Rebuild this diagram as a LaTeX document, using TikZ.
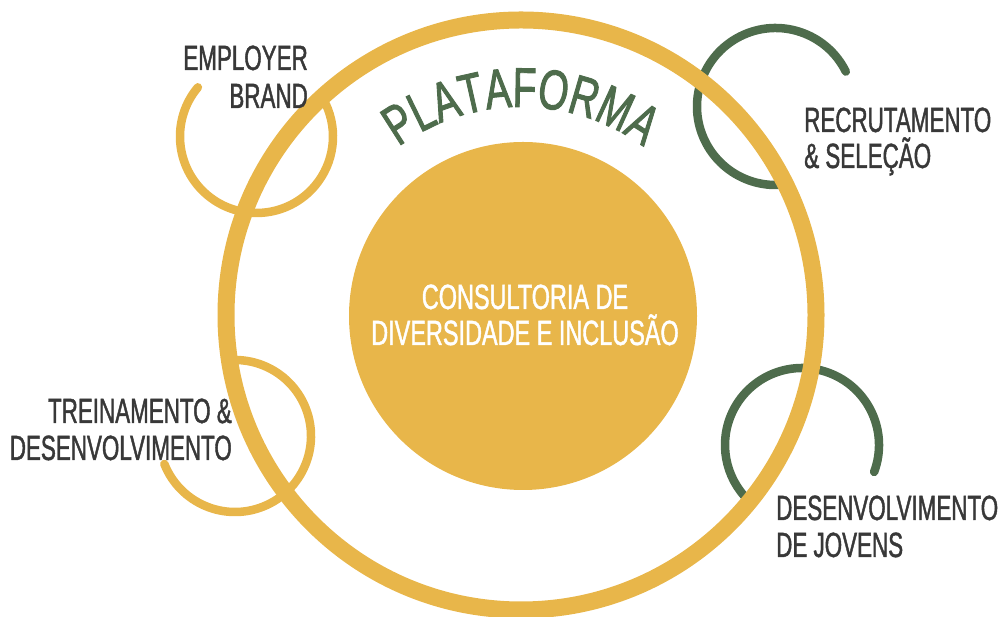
\documentclass[tikz,border=0pt]{standalone}
\usepackage{fontspec}
\setmainfont{Liberation Sans}[FakeStretch=0.64, FakeBold=1.2]
\newfontfamily\platfont{Liberation Sans}[FakeStretch=0.69, FakeBold=1.6]
\newfontfamily\corefont{Liberation Sans}[FakeStretch=0.67, FakeBold=1.2]
\usetikzlibrary{decorations.text}
\definecolor{ouro}{HTML}{E8B64A}
\definecolor{verde}{HTML}{4E6C4C}
\definecolor{texto}{HTML}{383838}
\tikzset{
  smallarc/.style={line width=8.5pt, line cap=round},
  label/.style={inner sep=0pt, text=texto, font=\fontsize{35}{37}\selectfont},
}
\begin{document}
\begin{tikzpicture}[x=1pt,y=1pt]
\useasboundingbox (0,0) rectangle (1001,617);
% small arcs
\coordinate (ebc) at (256.5,480.5);
\coordinate (rsc) at (775.5,510.5);
\coordinate (tdc) at (235,181);
\coordinate (djc) at (802,172);
\draw[smallarc, ouro] (ebc) ++(140:76.5) arc[start angle=140, end angle=385, radius=76.5];
\draw[smallarc, verde] (rsc) ++(26.4:78.5) arc[start angle=26.4, end angle=280, radius=78.5];
\draw[smallarc, ouro] (tdc) ++(201.7:76) arc[start angle=201.7, end angle=457, radius=76];
\draw[smallarc, verde] (djc) ++(-20.5:77) arc[start angle=-20.5, end angle=230, radius=77];
% big ring
\node[circle, draw=ouro, line width=17pt, minimum size=590pt, inner sep=0pt] (ring) at (521,302) {};
% inner disc
\node[circle, fill=ouro, minimum size=348pt, inner sep=0pt] (core) at (523,301) {};
\node[inner sep=0pt, anchor=base, align=center, text=white, font=\corefont\fontsize{35}{36}\selectfont] (coreText) at (525,272) {CONSULTORIA DE\\DIVERSIDADE E INCLUSÃO};
% curved title
\path[postaction={decorate}, decoration={text along path, text align=center,
  text={|\platfont\fontsize{56}{56}\selectfont\color{verde}|PLATAFORMA}}]
  (521,302) ++(130:208) arc[start angle=130, end angle=50, radius=208];
% labels
\node[label, anchor=base east, align=right] (eb) at (308,509) {EMPLOYER\\[1pt]BRAND};
\node[label, anchor=base west, align=left] (rs) at (804,449) {RECRUTAMENTO\\[-1pt]\& SELEÇÃO};
\node[label, anchor=base east, align=right] (td) at (232,157) {TREINAMENTO \&\\DESENVOLVIMENTO};
\node[label, anchor=base west, align=left] (dj) at (776,60) {DESENVOLVIMENTO\\DE JOVENS};
\end{tikzpicture}
\end{document}
